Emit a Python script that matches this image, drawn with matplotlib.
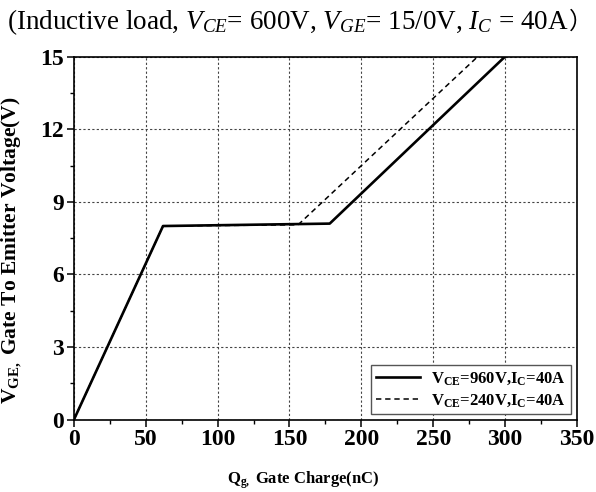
import matplotlib
matplotlib.use('Agg')
import matplotlib.pyplot as plt
from matplotlib.ticker import MultipleLocator

# gate charge curves
qg_960 = [0, 62, 178, 300]
vge_960 = [0, 8.0, 8.1, 15]
qg_240 = [0, 62, 156, 281]
vge_240 = [0, 8.0, 8.05, 15]

labels = [r'V$_{\mathbf{CE}}$=960V,I$_{\mathbf{C}}$=40A',
          r'V$_{\mathbf{CE}}$=240V,I$_{\mathbf{C}}$=40A']

plt.rcParams['font.family'] = ['Liberation Serif', 'Noto Sans CJK SC']
plt.rcParams['mathtext.fontset'] = 'custom'
plt.rcParams['mathtext.rm'] = 'Liberation Serif'
plt.rcParams['mathtext.it'] = 'Liberation Serif:italic'
plt.rcParams['mathtext.bf'] = 'Liberation Serif:bold'
plt.rcParams['mathtext.default'] = 'bf'

fig = plt.figure(figsize=(5.96, 4.92), dpi=100)
ax = fig.add_axes([0.124, 0.147, 0.844, 0.738])

ax.plot(qg_960, vge_960, color='black', lw=1.9, label=labels[0])
ax.plot(qg_240, vge_240, color='black', lw=1.1, ls=(0, (3.5, 2.5)), label=labels[1])

ax.set_xlim(0, 350)
ax.set_ylim(0, 15)
ax.xaxis.set_major_locator(MultipleLocator(50))
ax.xaxis.set_minor_locator(MultipleLocator(25))
ax.yaxis.set_major_locator(MultipleLocator(3))
ax.yaxis.set_minor_locator(MultipleLocator(1.5))
ax.tick_params(which='major', direction='out', length=5, width=1.1, labelsize=17, pad=2)
ax.tick_params(which='minor', direction='out', length=3, width=1.0)
for lab in ax.get_xticklabels() + ax.get_yticklabels():
    lab.set_fontweight('bold')
for sp in ax.spines.values():
    sp.set_linewidth(1.2)
ax.grid(True, which='major', color='#444444', ls=(0, (2, 2)), lw=0.8)

ax.set_xlabel(r'Q$_{\mathbf{g,}}$ Gate Charge(nC)', fontsize=12, fontweight='bold')
ax.set_ylabel(r'V$_{\mathbf{GE,}}$ Gate To Emitter Voltage(V)', fontsize=15.5, fontweight='bold')
ax.xaxis.set_label_coords(0.457, -0.138)
ax.yaxis.set_label_coords(-0.100, 0.467)

leg = ax.legend(loc='lower right', prop={'weight': 'bold', 'size': 12},
                fancybox=False, edgecolor='#555555', framealpha=1,
                handlelength=2.6, borderaxespad=0.35, borderpad=0.3,
                labelspacing=0.3, handletextpad=0.7)
leg.get_frame().set_linewidth(1.0)

title = fig.text(0.012, 0.955,
                 r'(Inductive load, $\mathit{V_{CE}}$= 600V, $\mathit{V_{GE}}$= 15/0V, $\mathit{I_C}$ = 40A',
                 fontsize=19.5, ha='left', va='center')
ax.annotate('）', xy=(1.0, 0.5), xycoords=title, ha='left', va='center',
            fontsize=17, family=['Noto Sans CJK SC'], annotation_clip=False)

fig.savefig('out.png', dpi=100)
